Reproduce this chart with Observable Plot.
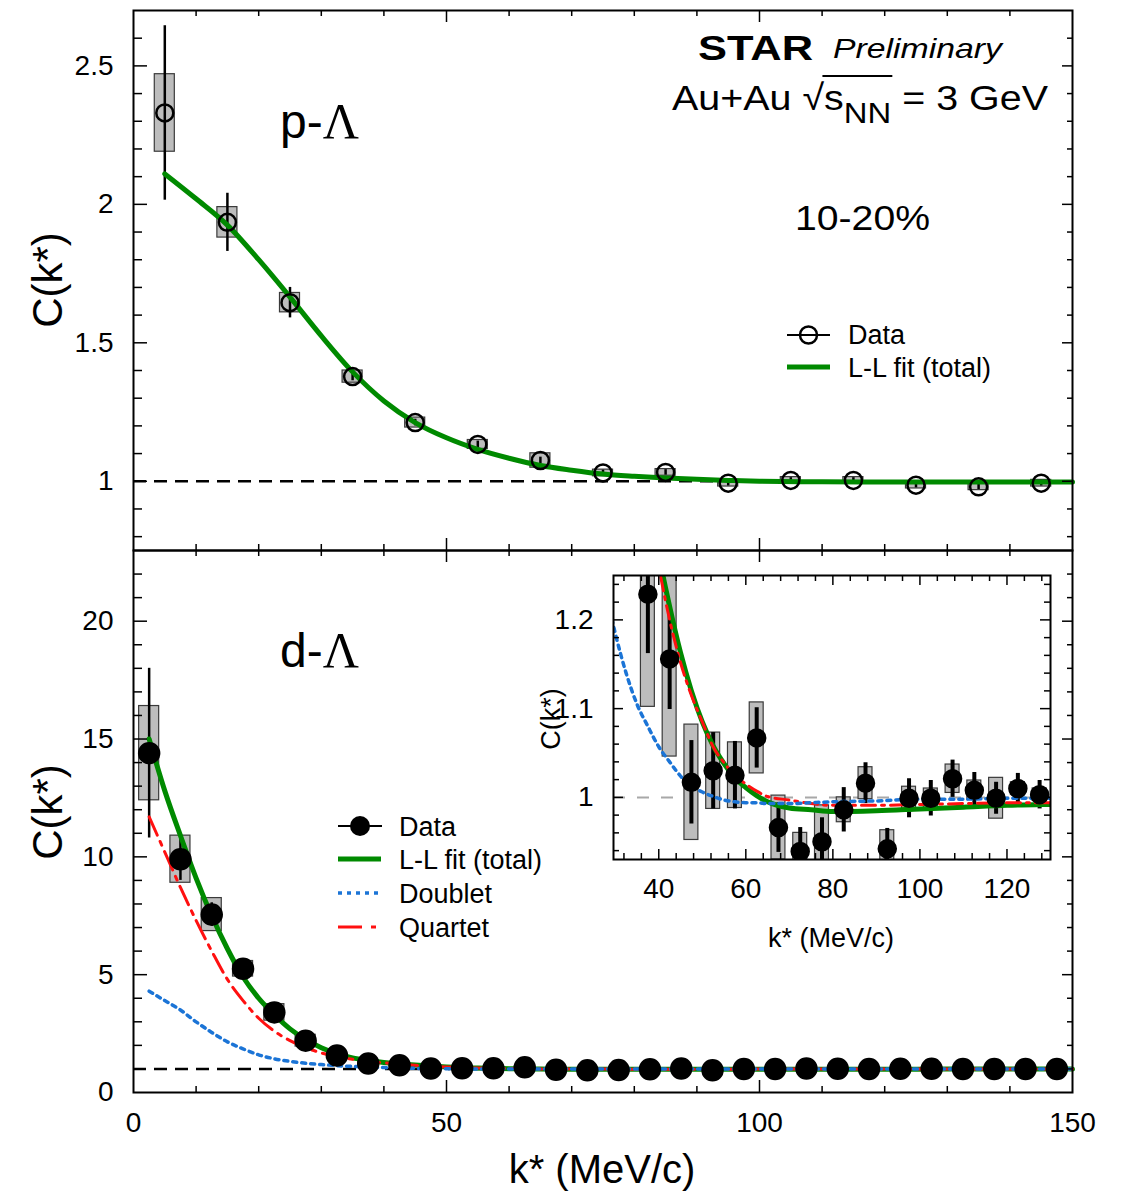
<!DOCTYPE html>
<html lang="en">
<head>
<meta charset="utf-8">
<title>p-Λ and d-Λ correlation functions</title>
<script src="https://cdn.jsdelivr.net/npm/d3@7"></script>
<script src="https://cdn.jsdelivr.net/npm/@observablehq/plot@0.6"></script>
<style>
  html, body { margin: 0; padding: 0; background: #fff; }
  #fig { position: relative; width: 1123px; height: 1193px; overflow: hidden; background: #fff; }
  #fig > svg { position: absolute; background: transparent !important; overflow: visible; max-width: none !important; }
</style>
</head>
<body>
<div id="fig"></div>
<script>
// ---------------- p-Λ, Au+Au 3 GeV, 10-20% ----------------
const pK    = [5, 15, 25, 35, 45, 55, 65, 75, 85, 95, 105, 115, 125, 135, 145];
const pC    = [2.33, 1.935, 1.645, 1.378, 1.212, 1.133, 1.075, 1.03, 1.032, 0.993, 1.003, 1.003, 0.986, 0.98, 0.993];
const pStat = [0.315, 0.105, 0.055, 0.015, 0.012, 0.012, 0.012, 0.01, 0.01, 0.01, 0.01, 0.01, 0.01, 0.01, 0.01];
const pSys  = [0.14, 0.055, 0.035, 0.022, 0.018, 0.016, 0.026, 0.012, 0.012, 0.012, 0.012, 0.012, 0.012, 0.012, 0.012];

// Lednicky-Lyuboshitz fit to p-Λ
const pFitK = [5, 10, 15, 20, 25, 30, 35, 40, 45, 50, 55, 60, 65, 70, 75, 80, 85, 90, 95, 100, 110, 120, 130, 140, 150];
const pFitC = [2.11, 2.02, 1.925, 1.80, 1.665, 1.525, 1.395, 1.29, 1.212, 1.157, 1.115, 1.083, 1.057, 1.04, 1.026, 1.018, 1.012, 1.007, 1.003, 1.0, 0.998, 0.997, 0.997, 0.997, 0.997];

// ---------------- d-Λ ----------------
const dK    = [2.5, 7.5, 12.5, 17.5, 22.5, 27.5, 32.5, 37.5, 42.5, 47.5, 52.5, 57.5, 62.5, 67.5, 72.5,
               77.5, 82.5, 87.5, 92.5, 97.5, 102.5, 107.5, 112.5, 117.5, 122.5, 127.5, 132.5, 137.5, 142.5, 147.5];
const dC    = [14.4, 9.9, 7.55, 5.25, 3.4, 2.2, 1.57, 1.229, 1.156, 1.017, 1.030, 1.025, 1.067, 0.966, 0.939,
               0.950, 0.986, 1.016, 0.942, 0.999, 0.999, 1.021, 1.008, 0.999, 1.010, 1.003, 1.0, 1.0, 1.0, 1.0];
const dStat = [3.6, 0.9, 0.5, 0.25, 0.2, 0.12, 0.08, 0.067, 0.057, 0.047, 0.043, 0.038, 0.034, 0.028, 0.027,
               0.027, 0.025, 0.023, 0.023, 0.022, 0.02, 0.021, 0.02, 0.018, 0.017, 0.016, 0.016, 0.016, 0.016, 0.016];
const dSys  = [2.0, 1.0, 0.7, 0.33, 0.35, 0.25, 0.12, 0.127, 0.11, 0.065, 0.043, 0.037, 0.04, 0.036, 0.021,
               0.041, 0.014, 0.018, 0.021, 0.013, 0.011, 0.016, 0.011, 0.023, 0.007, 0.007, 0.007, 0.007, 0.007, 0.007];

// L-L fit to d-Λ: total and its spin-doublet / spin-quartet parts
const fitK       = [2.5, 5, 7.5, 10, 12.5, 15, 17.5, 20, 22.5, 25, 27.5, 30, 32.5, 35, 37.5, 40, 42.5, 45, 47.5, 50,
                    52.5, 55, 57.5, 60, 62.5, 65, 70, 75, 80, 90, 100, 110, 120, 130, 150];
const fitTotal   = [15.0, 12.8, 10.9, 9.1, 7.5, 6.1, 4.9, 4.0, 3.3, 2.7, 2.25, 1.9, 1.65, 1.47, 1.36, 1.275, 1.215, 1.163, 1.12, 1.085,
                    1.058, 1.038, 1.022, 1.011, 1.002, 0.995, 0.988, 0.986, 0.984, 0.985, 0.987, 0.989, 0.991, 0.992, 0.993];
const fitQuartet = [11.7, 10.2, 8.7, 7.3, 6.0, 4.8, 3.9, 3.15, 2.6, 2.2, 1.9, 1.68, 1.52, 1.41, 1.33, 1.26, 1.2, 1.152, 1.115, 1.085,
                    1.057, 1.039, 1.025, 1.015, 1.007, 1.001, 0.997, 0.993, 0.991, 0.991, 0.992, 0.993, 0.994, 0.994, 0.995];
const fitDoublet = [4.3, 3.9, 3.5, 3.0, 2.55, 2.15, 1.85, 1.6, 1.43, 1.32, 1.24, 1.185, 1.14, 1.105, 1.08, 1.057, 1.04, 1.024, 1.013, 1.006,
                    1.001, 0.997, 0.995, 0.994, 0.994, 0.993, 0.993, 0.994, 0.995, 0.996, 0.998, 0.998, 0.999, 0.999, 1.0];

// Tick labels
const xTicksMain   = [0, 50, 100, 150];
const yTicksTop    = [1, 1.5, 2, 2.5];
const yTicksBottom = [0, 5, 10, 15, 20];
const xTicksInset  = [40, 60, 80, 100, 120];
const yTicksInset  = [1, 1.1, 1.2];

// ---------------- styling ----------------
const FONT = '"Liberation Sans", Arial, Helvetica, sans-serif';
const GREEN = "#008a00", RED = "#ff1010", BLUE = "#1b74d6";
const BOX_FILL = "#bdbdbd", BOX_STROKE = "#3a3a3a";
const HALF_BOX = 1.6;              // half width of systematic boxes (MeV/c)
const baseStyle = {fontFamily: FONT, fontSize: "28px", background: "transparent", overflow: "visible", color: "black"};

const rows = (K, C, S, Y) => K.map((k, i) => ({k, c: C[i], stat: S[i], sys: Y[i]}));
const curve = (K, C) => K.map((k, i) => ({k, c: C[i]}));
const pRows = rows(pK, pC, pStat, pSys);
const dRows = rows(dK, dC, dStat, dSys);

function dataMarks(data, {r, fill, statWidth, clip}) {
  return {
    boxes: Plot.rect(data, {x1: d => d.k - HALF_BOX, x2: d => d.k + HALF_BOX, y1: d => d.c - d.sys, y2: d => d.c + d.sys,
                            fill: BOX_FILL, stroke: BOX_STROKE, strokeWidth: 1.2, clip}),
    bars: Plot.ruleX(data, {x: "k", y1: d => d.c - d.stat, y2: d => d.c + d.stat, stroke: "black", strokeWidth: statWidth, clip}),
    dots: Plot.dot(data, {x: "k", y: "c", r, fill, stroke: "black", strokeWidth: 2.5, clip})
  };
}

// inward-pointing ticks on all four sides of a frame
function inwardTicks(xDom, yDom, xMinor, xMajor, yMinor, yMajor, L) {
  const s = {stroke: "black", strokeWidth: 1.5};
  const out = [];
  for (const [vals, len] of [[xMinor, L.xMinor], [xMajor, L.xMajor]]) {
    out.push(Plot.ruleX(vals, {x: d => d, y1: yDom[0], y2: yDom[0], insetBottom: len, ...s}));
    out.push(Plot.ruleX(vals, {x: d => d, y1: yDom[1], y2: yDom[1], insetTop: len, ...s}));
  }
  for (const [vals, lenL, lenR] of [[yMinor, L.yMinor, L.rMinor], [yMajor, L.yMajor, L.rMajor]]) {
    out.push(Plot.ruleY(vals, {y: d => d, x1: xDom[0], x2: xDom[0], insetLeft: lenL, ...s}));
    out.push(Plot.ruleY(vals, {y: d => d, x1: xDom[1], x2: xDom[1], insetRight: lenR, ...s}));
  }
  return out;
}
const isMult = (v, m) => Math.abs(v / m - Math.round(v / m)) < 1e-6;

const fig = d3.select("#fig");
function place(svg, left, top) {
  svg.style.left = left + "px";
  svg.style.top = top + "px";
  fig.node().appendChild(svg);
}

const xDomMain = [0, 150];
const xMinorMain = d3.range(10, 150, 10).filter(v => !isMult(v, 50));
const xMajorMain = d3.range(50, 150, 50);
const dashed1 = {stroke: "black", strokeWidth: 2.5, strokeDasharray: "13,8"};

// ---------------- upper panel: p-Λ ----------------
const yDomTop = [0.75, 2.7];
const topM = dataMarks(pRows, {r: 8.5, fill: "none", statWidth: 2.5});
place(Plot.plot({
  width: 1123, height: 560,
  marginLeft: 133, marginRight: 51, marginTop: 10, marginBottom: 10,
  style: baseStyle,
  x: {domain: xDomMain, axis: null},
  y: {domain: yDomTop, ticks: yTicksTop, tickFormat: d => String(d), tickSize: 0, tickPadding: 20, label: null},
  marks: [
    Plot.ruleY([1], dashed1),
    topM.boxes, topM.bars,
    Plot.line(curve(pFitK, pFitC), {x: "k", y: "c", stroke: GREEN, strokeWidth: 5, curve: "monotone-x"}),
    topM.dots,
    ...inwardTicks(xDomMain, yDomTop, xMinorMain, xMajorMain,
                   d3.range(8, 27).map(v => v / 10).filter(v => !isMult(v, 0.5)), [1, 1.5, 2, 2.5],
                   {xMinor: 6, xMajor: 12, yMinor: 9, yMajor: 14, rMinor: 5, rMajor: 10}),
    Plot.frame({stroke: "black", strokeWidth: 2})
  ]
}), 0, 0);

// ---------------- lower panel: d-Λ ----------------
const yDomBot = [0, 23];
const botM = dataMarks(dRows, {r: 10, fill: "black", statWidth: 2.5});
place(Plot.plot({
  width: 1123, height: 653,
  marginLeft: 133, marginRight: 51, marginTop: 10, marginBottom: 101,
  style: baseStyle,
  x: {domain: xDomMain, ticks: xTicksMain, tickSize: 0, tickPadding: 20, label: null},
  y: {domain: yDomBot, ticks: yTicksBottom, tickSize: 0, tickPadding: 20, label: null},
  marks: [
    Plot.ruleY([1], dashed1),
    botM.boxes, botM.bars,
    Plot.line(curve(fitK, fitTotal), {x: "k", y: "c", stroke: GREEN, strokeWidth: 5, curve: "monotone-x"}),
    Plot.line(curve(fitK, fitQuartet), {x: "k", y: "c", stroke: RED, strokeWidth: 3, strokeDasharray: "20,7,4,7", curve: "monotone-x"}),
    Plot.line(curve(fitK, fitDoublet), {x: "k", y: "c", stroke: BLUE, strokeWidth: 3.5, strokeDasharray: "4,5", curve: "monotone-x"}),
    botM.dots,
    ...inwardTicks(xDomMain, yDomBot, xMinorMain, xMajorMain,
                   d3.range(1, 23).filter(v => v % 5 !== 0), [5, 10, 15, 20],
                   {xMinor: 6, xMajor: 12, yMinor: 9, yMajor: 14, rMinor: 5, rMajor: 10}),
    Plot.frame({stroke: "black", strokeWidth: 2})
  ]
}), 0, 540);

// ---------------- inset: zoom on the d-Λ tail ----------------
const xDomIn = [29.6, 130], yDomIn = [0.93, 1.25];
const insM = dataMarks(dRows, {r: 8.5, fill: "black", statWidth: 4, clip: true});
place(Plot.plot({
  width: 580, height: 400,
  marginLeft: 113, marginRight: 30, marginTop: 15, marginBottom: 101,
  style: baseStyle,
  x: {domain: xDomIn, ticks: xTicksInset, tickSize: 0, tickPadding: 19, label: null},
  y: {domain: yDomIn, ticks: yTicksInset, tickFormat: d => String(d), tickSize: 0, tickPadding: 20, label: null},
  marks: [
    Plot.ruleY([1], {stroke: "#a8a8a8", strokeWidth: 2, strokeDasharray: "12,12"}),
    insM.boxes, insM.bars,
    Plot.line(curve(fitK, fitTotal), {x: "k", y: "c", stroke: GREEN, strokeWidth: 5, curve: "monotone-x", clip: true}),
    Plot.line(curve(fitK, fitQuartet), {x: "k", y: "c", stroke: RED, strokeWidth: 3, strokeDasharray: "14,6,3,6", curve: "monotone-x", clip: true}),
    Plot.line(curve(fitK, fitDoublet), {x: "k", y: "c", stroke: BLUE, strokeWidth: 3.5, strokeDasharray: "4,5", curve: "monotone-x", clip: true}),
    insM.dots,
    ...inwardTicks(xDomIn, yDomIn, d3.range(32, 130, 4).filter(v => v % 20 !== 0), xTicksInset,
                   d3.range(94, 125, 2).map(v => v / 100).filter(v => !isMult(v, 0.1)), yTicksInset,
                   {xMinor: 6, xMajor: 10, yMinor: 6, yMajor: 10, rMinor: 6, rMajor: 10}),
    Plot.frame({stroke: "black", strokeWidth: 2})
  ]
}), 500, 560);

// ---------------- titles, labels and legends ----------------
const ann = fig.append("svg").attr("width", 1123).attr("height", 1193)
  .style("left", "0px").style("top", "0px").attr("font-family", FONT).attr("fill", "black");
function txt(x, y, s, attrs = {}, parent = ann) {
  const t = parent.append("text").attr("x", x).attr("y", y).text(s);
  for (const [k, v] of Object.entries(attrs)) t.attr(k, v);
  return t;
}

// axis titles
txt(0, 0, "C(k*)", {"font-size": 42, "text-anchor": "middle", transform: "translate(62,280) rotate(-90)"});
txt(0, 0, "C(k*)", {"font-size": 42, "text-anchor": "middle", transform: "translate(62,812) rotate(-90)"});
txt(602, 1183, "k* (MeV/c)", {"font-size": 40, "text-anchor": "middle"});
txt(0, 0, "C(k*)", {"font-size": 27, "text-anchor": "middle", transform: "translate(560,719) rotate(-90)"});
txt(831, 947, "k* (MeV/c)", {"font-size": 27, "text-anchor": "middle"});

// system labels
function pairLabel(y, first) {
  const t = ann.append("text").attr("x", 280).attr("y", y);
  t.append("tspan").attr("font-size", 48).text(first + "-");
  t.append("tspan").attr("font-size", 50).attr("font-family", '"Liberation Serif", "DejaVu Serif", serif').text("Λ");
}
pairLabel(138, "p");
pairLabel(667, "d");

txt(698, 60, "STAR", {"font-size": 35, "font-weight": "bold", textLength: 115, lengthAdjust: "spacingAndGlyphs"});
txt(833, 58, "Preliminary", {"font-size": 28, "font-style": "italic", textLength: 169, lengthAdjust: "spacingAndGlyphs"});
txt(795, 230, "10-20%", {"font-size": 35, textLength: 135, lengthAdjust: "spacingAndGlyphs"});

// Au+Au √s_NN = 3 GeV
{
  const g = ann.append("g");
  const t = g.append("text").attr("x", 0).attr("y", 0).attr("font-size", 36);
  t.append("tspan").text("Au+Au ");
  t.append("tspan").text("√");
  t.append("tspan").text("s");
  t.append("tspan").attr("font-size", 30).attr("dy", 13).text("NN");
  t.append("tspan").attr("dy", -13).text(" = 3 GeV");
  const node = t.node();
  const sx = 376 / node.getComputedTextLength();
  g.attr("transform", `translate(672,110) scale(${sx},1)`);
  const x1 = node.getEndPositionOfChar(6).x - 1.5;
  const x2 = node.getEndPositionOfChar(9).x + 1;
  g.append("line").attr("x1", x1).attr("x2", x2).attr("y1", -34).attr("y2", -34)
    .attr("stroke", "black").attr("stroke-width", 2);
}

// legend, upper panel
function legendRow(x, y, draw, label, ty) {
  draw(x, y);
  txt(x + 61, ty, label, {"font-size": 27});
}
const L1 = 787, L2 = 338;
legendRow(L1, 335, (x, y) => {
  ann.append("line").attr("x1", x).attr("x2", x + 43).attr("y1", y).attr("y2", y).attr("stroke", "black").attr("stroke-width", 2);
  ann.append("circle").attr("cx", x + 21.5).attr("cy", y).attr("r", 8.5).attr("fill", "none").attr("stroke", "black").attr("stroke-width", 2.5);
}, "Data", 344);
const seg = (x, y, stroke, w, dash) => ann.append("line").attr("x1", x).attr("x2", x + 43).attr("y1", y).attr("y2", y)
  .attr("stroke", stroke).attr("stroke-width", w).attr("stroke-dasharray", dash);
legendRow(L1, 367, (x, y) => seg(x, y, GREEN, 5, null), "L-L fit (total)", 377);

// legend, lower panel
legendRow(L2, 826, (x, y) => {
  ann.append("line").attr("x1", x).attr("x2", x + 44).attr("y1", y).attr("y2", y).attr("stroke", "black").attr("stroke-width", 2);
  ann.append("circle").attr("cx", x + 22).attr("cy", y).attr("r", 10).attr("fill", "black");
}, "Data", 836);
legendRow(L2, 859, (x, y) => seg(x, y, GREEN, 5, null), "L-L fit (total)", 869);
legendRow(L2, 893, (x, y) => seg(x, y, BLUE, 3.5, "4,5"), "Doublet", 903);
legendRow(L2, 927, (x, y) => seg(x, y, RED, 3, "24,9,5,9"), "Quartet", 937);
</script>
</body>
</html>
